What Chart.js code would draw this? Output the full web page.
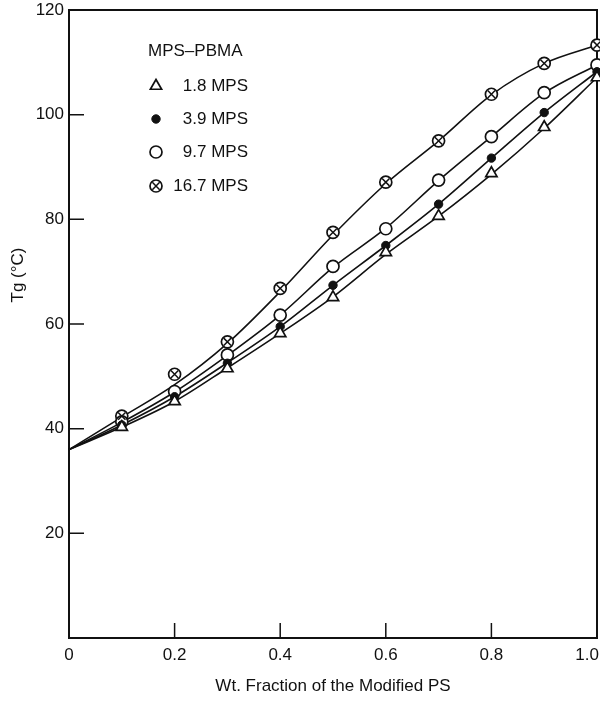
<!DOCTYPE html>
<html>
<head>
<meta charset="utf-8">
<script src="https://cdn.jsdelivr.net/npm/chart.js@4/dist/chart.umd.min.js"></script>
<style>
  html, body { margin: 0; padding: 0; background: #fff; }
  canvas { display: block; }
</style>
</head>
<body>
<canvas id="grafico" width="600" height="703"></canvas>
<script>
/* ======================================================
   DATA
   ====================================================== */
const xTitle = "Wt. Fraction of the Modified PS";
const yTitle = "Tg (°C)";
const legendTitle = "MPS\u2013PBMA";
const seriesNames = ["1.8 MPS", "3.9 MPS", "9.7 MPS", "16.7 MPS"];

const xTicks = [0, 0.2, 0.4, 0.6, 0.8, 1.0];
const xTickLabels = ["0", "0.2", "0.4", "0.6", "0.8", "1.0"];
const yTicks = [0, 20, 40, 60, 80, 100, 120];
const yTickLabels = ["", "20", "40", "60", "80", "100", "120"];

// measured points
const fracPoints = [0.1, 0.2, 0.3, 0.4, 0.5, 0.6, 0.7, 0.8, 0.9, 1.0];
const tg18  = [40.3, 45.2, 51.5, 58.2, 65.1, 73.7, 80.6, 88.8, 97.6, 107.1];
const tg39  = [40.7, 46.1, 52.5, 59.5, 67.4, 75.0, 82.9, 91.7, 100.4, 108.2];
const tg97  = [41.3, 47.1, 54.1, 61.7, 71.0, 78.2, 87.5, 95.8, 104.2, 109.5];
const tg167 = [42.4, 50.4, 56.6, 66.8, 77.5, 87.1, 95.0, 103.9, 109.8, 113.3];

// drawn curves (start at the PBMA Tg on the left axis)
const fracCurve = [0, 0.1, 0.2, 0.3, 0.4, 0.5, 0.6, 0.7, 0.8, 0.9, 1.0];
const curve18  = [36, 40.3, 45.2, 51.6, 58.2, 65.2, 73.3, 80.6, 88.6, 97.4, 107.1];
const curve39  = [36, 40.7, 46.1, 52.6, 59.5, 67.4, 75.0, 82.9, 91.7, 100.4, 108.2];
const curve97  = [36, 41.2, 47.0, 54.0, 61.7, 70.8, 78.3, 87.4, 95.8, 104.1, 109.5];
const curve167 = [36, 42.2, 48.4, 56.3, 66.2, 77.0, 86.8, 95.0, 103.8, 109.8, 113.3];

const INK = "#111";
const FONT = "'Liberation Sans', Arial, Helvetica, sans-serif";

function toXY(xs, ys) {
    return xs.map((x, i) => ({ x, y: ys[i] }));
}

/* ======================================================
   DATASETS
   ====================================================== */
// legendRow: which legend row the marker goes to; legendText: label shown there
const markerStyles = [
    { pointStyle: "triangle", pointRadius: 6.5, pointBackgroundColor: "#fff", pointBorderWidth: 1.7 },
    { pointStyle: "circle", pointRadius: 4.2, pointBackgroundColor: INK, pointBorderWidth: 1 },
    { pointStyle: "circle", pointRadius: 6, pointBackgroundColor: "#fff", pointBorderWidth: 1.7 },
    { pointStyle: "circle", pointRadius: 6, pointBackgroundColor: "#fff", pointBorderWidth: 1.7 }
];

const pointSets = [tg18, tg39, tg97, tg167];
const curveSets = [curve18, curve39, curve97, curve167];

const datasets = [];
pointSets.forEach((vals, i) => {
    datasets.push(Object.assign({
        label: seriesNames[i],
        data: toXY(fracPoints, vals),
        showLine: false,
        pointBorderColor: INK,
        order: 0,
        clip: false,
        legendRow: i,
        legendText: true
    }, markerStyles[i]));
});

// the X inside the 16.7 MPS circles
datasets.push({
    label: seriesNames[3] + " cross",
    data: toXY(fracPoints, tg167),
    showLine: false,
    pointStyle: "crossRot",
    pointRadius: 5.2,
    pointBorderColor: INK,
    pointBackgroundColor: INK,
    pointBorderWidth: 1.5,
    order: -1,
    clip: false,
    legendRow: 3,
    legendText: false
});

curveSets.forEach((vals, i) => {
    datasets.push({
        label: seriesNames[i] + " curve",
        data: toXY(fracCurve, vals),
        borderColor: INK,
        borderWidth: 1.6,
        pointRadius: 0,
        cubicInterpolationMode: "monotone",
        fill: false,
        order: 1,
        clip: false
    });
});

/* ======================================================
   FRAME, INNER TICKS, TITLES AND LEGEND
   ====================================================== */
const decor = {
    id: "decor",
    beforeDatasetsDraw(chart) {
        const { ctx, chartArea: a, scales: { x, y } } = chart;
        ctx.save();
        ctx.strokeStyle = INK;
        ctx.lineWidth = 2;
        ctx.strokeRect(a.left, a.top, a.right - a.left, a.bottom - a.top);

        ctx.lineWidth = 1.5;
        ctx.beginPath();
        xTicks.slice(1, -1).forEach(v => {
            const px = x.getPixelForValue(v);
            ctx.moveTo(px, a.bottom);
            ctx.lineTo(px, a.bottom - 15);
        });
        yTicks.slice(1, -1).forEach(v => {
            const py = y.getPixelForValue(v);
            ctx.moveTo(a.left, py);
            ctx.lineTo(a.left + 15, py);
        });
        ctx.stroke();

        // x tick labels (last one kept inside the page)
        ctx.fillStyle = INK;
        ctx.font = "17px " + FONT;
        ctx.textBaseline = "middle";
        xTicks.forEach((v, i) => {
            const last = i === xTicks.length - 1;
            const px = x.getPixelForValue(v);
            ctx.textAlign = last ? "right" : "center";
            ctx.fillText(xTickLabels[i], last ? px + 2 : px, a.bottom + 17);
        });

        // axis titles
        ctx.textAlign = "center";
        ctx.fillText(xTitle, (a.left + a.right) / 2, 686);
        ctx.save();
        ctx.translate(18, 275);
        ctx.rotate(-Math.PI / 2);
        ctx.fillText(yTitle, 0, 0);
        ctx.restore();
        ctx.restore();
    },
    afterDraw(chart) {
        const { ctx } = chart;
        const draw = Chart.helpers.drawPoint;
        ctx.save();
        ctx.fillStyle = INK;
        ctx.font = "17px " + FONT;
        ctx.textBaseline = "middle";
        ctx.textAlign = "left";
        ctx.fillText(legendTitle, 148, 51);

        const rows = [86, 119, 152, 186];
        chart.data.datasets.filter(d => d.legendRow !== undefined).forEach(d => {
            const yRow = rows[d.legendRow];
            ctx.fillStyle = d.pointBackgroundColor;
            ctx.strokeStyle = d.pointBorderColor;
            ctx.lineWidth = d.pointBorderWidth;
            draw(ctx, {
                pointStyle: d.pointStyle,
                radius: d.pointRadius,
                rotation: 0,
                borderWidth: d.pointBorderWidth
            }, 156, yRow);
            if (d.legendText) {
                ctx.fillStyle = INK;
                ctx.textAlign = "right";
                ctx.fillText(d.label, 248, yRow);
            }
        });
        ctx.restore();
    }
};

/* ======================================================
   CHART
   ====================================================== */
new Chart(document.getElementById("grafico"), {
    type: "line",
    data: { datasets },
    plugins: [decor],
    options: {
        responsive: false,
        animation: false,
        events: [],
        layout: { autoPadding: false, padding: { top: 10, right: 3, left: 0, bottom: 0 } },
        plugins: {
            legend: { display: false },
            tooltip: { enabled: false }
        },
        scales: {
            x: {
                type: "linear",
                min: 0,
                max: 1,
                afterBuildTicks: s => { s.ticks = xTicks.map(v => ({ value: v })); },
                afterFit: s => { s.height = 65; s.paddingLeft = 0; s.paddingRight = 0; },
                ticks: { display: false },
                grid: { display: false },
                border: { display: false }
            },
            y: {
                type: "linear",
                min: 0,
                max: 120,
                afterBuildTicks: s => { s.ticks = yTicks.map(v => ({ value: v })); },
                afterFit: s => { s.width = 69; s.paddingTop = 0; s.paddingBottom = 0; },
                ticks: {
                    color: INK,
                    padding: 5,
                    font: { family: FONT, size: 17 },
                    callback: (v, i) => yTickLabels[i]
                },
                grid: { display: false, drawTicks: false },
                border: { display: false }
            }
        }
    }
});
</script>
</body>
</html>
